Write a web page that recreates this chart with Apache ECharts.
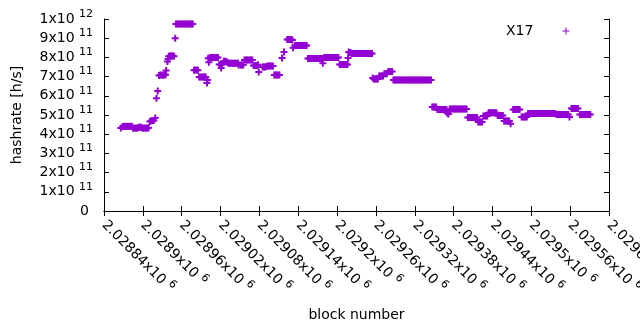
<!DOCTYPE html>
<html>
<head>
<meta charset="utf-8">
<title>X17 hashrate</title>
<script src="https://cdn.jsdelivr.net/npm/echarts@6/dist/echarts.min.js"></script>
<style>
  html, body { margin: 0; padding: 0; background: #fff; }
  #chart { width: 640px; height: 330px; }
</style>
</head>
<body>
<div id="chart"></div>
<script>
  // x axis: block numbers, ticks every 60 blocks
  const firstBlock = 2028840
  const lastBlock = 2029620
  const blockStep = 60
  // mantissas of the x tick labels (all x10^6)
  const xTickLabels = ['2.02884', '2.0289', '2.02896', '2.02902', '2.02908', '2.02914', '2.0292',
    '2.02926', '2.02932', '2.02938', '2.02944', '2.0295', '2.02956', '2.02962']
  // y tick labels: [mantissa, exponent]
  const yTickLabels = [['0', ''], ['1', '11'], ['2', '11'], ['3', '11'], ['4', '11'], ['5', '11'],
    ['6', '11'], ['7', '11'], ['8', '11'], ['9', '11'], ['1', '12']]
  // X17 samples: [block - firstBlock, hashrate in 1e11 h/s]
  const x17 = [
    [26,4.32],[29,4.40],[31,4.41],[33,4.40],[35,4.41],[37,4.40],[39,4.41],[41,4.40],[43,4.41],
    [45,4.31],[47,4.32],[49,4.31],[51,4.32],[53,4.33],[55,4.37],[57,4.36],[59,4.32],[61,4.31],[63,4.32],[65,4.31],[67,4.32],[69,4.33],
    [71,4.66],[73,4.70],[75,4.72],[77,4.71],[79,4.85],
    [81,5.87],[83,6.25],
    [85,7.06],[87,7.08],[89,7.08],[91,7.07],[93,7.08],[95,7.10],[96,7.32],
    [98,7.78],[99,7.92],
    [100,8.06],[102,8.07],[104,8.07],[106,8.08],[108,8.06],
    [110,9.00],
    [111,9.74],[113,9.74],[115,9.74],[117,9.74],[119,9.74],[121,9.74],[123,9.74],[125,9.74],[127,9.74],[129,9.74],[131,9.74],[133,9.74],[135,9.74],[137,9.74],
    [139,7.33],[141,7.34],[143,7.34],[145,7.33],
    [147,6.98],[149,6.98],[151,6.98],[153,6.98],[155,6.98],[157,6.98],
    [159,6.67],[160,6.82],[161,7.95],[162,7.75],
    [164,8.00],[166,8.00],[168,8.00],[170,8.00],[172,8.00],[174,8.00],[176,8.00],
    [178,7.63],[180,7.63],[181,7.45],[182,7.62],
    [185,7.80],[187,7.80],[189,7.79],[191,7.72],[193,7.70],[195,7.70],[197,7.70],[199,7.70],[201,7.70],[203,7.70],[205,7.70],[207,7.70],
    [208,7.60],
    [211,7.60],[213,7.60],[215,7.60],
    [217,7.86],[219,7.86],[221,7.86],[223,7.86],[225,7.86],[227,7.86],[229,7.86],
    [231,7.58],[233,7.58],[235,7.58],[237,7.58],[238,7.62],
    [239,7.24],
    [245,7.50],[247,7.50],[249,7.50],[251,7.52],[253,7.55],[255,7.55],[257,7.55],[259,7.55],[261,7.55],
    [263,7.08],[265,7.08],[267,7.08],[269,7.08],[271,7.08],
    [275,7.97],[278,8.28],
    [283,8.93],[285,8.93],[287,8.93],[289,8.93],[291,8.90],
    [292,8.50],
    [295,8.62],[297,8.62],[299,8.62],[301,8.62],[303,8.62],[305,8.62],[307,8.62],[309,8.62],[311,8.62],[313,8.62],
    [315,7.94],[317,7.94],[319,7.94],[321,7.94],[323,7.94],[325,7.94],[327,7.94],[329,7.94],[331,7.94],[333,7.94],[335,7.94],[337,7.94],
    [338,7.70],
    [340,8.00],[342,8.00],[344,8.00],[346,8.00],[348,8.00],[350,8.00],[352,8.00],[354,8.00],[356,8.00],[358,8.00],[360,8.00],[362,8.00],
    [364,7.63],[366,7.63],[368,7.63],[370,7.63],[372,7.63],[374,7.63],[376,7.63],
    [377,7.97],[378,8.28],
    [380,8.25],[382,8.22],[384,8.20],[386,8.20],[388,8.20],[390,8.20],[392,8.20],[394,8.20],[396,8.20],[398,8.20],[400,8.20],
    [402,8.20],[404,8.20],[406,8.20],[408,8.20],[410,8.20],[412,8.20],[414,8.20],
    [415,6.93],[417,6.88],[419,6.88],[421,6.88],[423,6.88],
    [425,7.03],[427,7.03],[429,7.03],[431,7.03],
    [433,7.15],[435,7.15],[437,7.15],
    [439,7.26],[441,7.26],[443,7.26],[445,7.26],
    [447,6.82],[449,6.82],[451,6.82],[453,6.82],[455,6.82],[457,6.82],[459,6.82],[461,6.82],[463,6.82],[465,6.82],
    [467,6.82],[469,6.82],[471,6.82],[473,6.82],[475,6.82],[477,6.82],[479,6.82],[481,6.82],[483,6.82],[485,6.82],
    [487,6.82],[489,6.82],[491,6.82],[493,6.82],[495,6.82],[497,6.82],[499,6.82],[501,6.82],[503,6.82],[505,6.82],
    [507,5.42],[509,5.42],[511,5.42],[513,5.42],
    [515,5.29],[517,5.29],[519,5.29],[521,5.29],[523,5.29],[525,5.29],[527,5.29],[529,5.29],[530,5.10],[532,5.05],
    [534,5.31],[536,5.31],[538,5.31],[540,5.31],[542,5.31],[544,5.31],[546,5.31],[548,5.31],[550,5.31],[552,5.31],[554,5.31],[556,5.31],[558,5.31],[560,5.31],
    [562,4.87],[564,4.87],[566,4.87],[568,4.87],[570,4.87],[572,4.87],[574,4.87],[576,4.87],
    [578,4.63],[580,4.63],[582,4.63],[584,4.63],
    [586,4.95],[588,4.95],[590,4.95],[592,4.95],
    [594,5.12],[596,5.12],[598,5.12],[600,5.12],[602,5.12],[604,5.12],[606,5.12],
    [608,4.97],[610,4.97],[612,4.97],[614,4.97],[616,4.97],
    [618,4.69],[620,4.69],[622,4.69],[624,4.69],[626,4.69],[628,4.55],
    [632,5.29],[634,5.29],[636,5.29],[638,5.29],[640,5.29],[642,5.29],
    [645,4.90],[647,4.90],[649,4.90],[651,4.90],[653,4.90],
    [655,5.08],[657,5.08],[659,5.08],[661,5.08],[663,5.08],[665,5.08],[667,5.08],[669,5.08],[671,5.08],[673,5.08],[675,5.08],
    [677,5.08],[679,5.08],[681,5.08],[683,5.08],[685,5.08],[687,5.08],[689,5.08],[691,5.08],[693,5.08],[695,5.08],[697,5.08],
    [699,5.03],[701,5.03],[703,5.03],[705,5.03],[707,5.03],[709,5.03],[711,5.03],[713,5.03],[715,5.03],[717,5.03],[719,4.90],
    [722,5.34],[724,5.34],[726,5.34],[728,5.34],[730,5.34],[732,5.34],
    [735,5.03],[737,5.03],[739,5.03],[741,5.03],[743,5.03],[745,5.03],[747,5.03],[749,5.03],[751,5.03]
  ]

  const purple = '#9400d3'
  const font = 'DejaVu Sans'
  // gnuplot style "+" point (bold enough that runs of points merge)
  const plus = 'path://M0,2.5H7V4.5H0Z M2.5,0H4.5V7H2.5Z'
  const plusThin = 'path://M0,3H7V4H0Z M3,0H4V7H3Z'

  const rich = {
    b: { fontFamily: font, fontSize: 14, color: '#000' },
    s: { fontFamily: font, fontSize: 11, color: '#000', padding: [0, 0, 10, 0] }
  }

  const chart = echarts.init(document.getElementById('chart'), null, { renderer: 'canvas' })

  const tickStyle = { show: true, inside: true, length: 5, lineStyle: { color: '#000', width: 1 } }
  const lineStyle = { show: true, lineStyle: { color: '#000', width: 1 } }

  const option = {
    animation: false,
    grid: { left: 104, top: 19, width: 505, height: 192, outerBoundsMode: 'none', containLabel: false },
    legend: {
      data: ['X17'],
      left: 506,
      top: 24,
      padding: 0,
      align: 'right',
      icon: plusThin,
      itemWidth: 7,
      itemHeight: 7,
      selectedMode: false,
      textStyle: { fontFamily: font, fontSize: 14, color: '#000', padding: [0, 24, 0, 0] }
    },
    xAxis: [
      {
        type: 'value',
        min: firstBlock,
        max: lastBlock,
        interval: blockStep,
        name: 'block number',
        nameLocation: 'middle',
        nameGap: 97,
        nameTextStyle: { fontFamily: font, fontSize: 14, color: '#000' },
        axisLine: lineStyle,
        axisTick: tickStyle,
        splitLine: { show: false },
        axisLabel: {
          rotate: -45,
          margin: 12,
          showMinLabel: true,
          showMaxLabel: true,
          formatter: v => {
            const i = Math.round((v - firstBlock) / blockStep)
            return '{b|' + xTickLabels[i] + 'x10 }{s|6}'
          },
          rich: rich
        }
      },
      {
        type: 'value',
        position: 'top',
        min: firstBlock,
        max: lastBlock,
        interval: blockStep,
        axisLine: lineStyle,
        axisTick: tickStyle,
        axisLabel: { show: false },
        splitLine: { show: false }
      }
    ],
    yAxis: [
      {
        type: 'value',
        min: 0,
        max: 1e12,
        interval: 1e11,
        name: 'hashrate [h/s]',
        nameLocation: 'middle',
        nameGap: 80,
        nameTextStyle: { fontFamily: font, fontSize: 14, color: '#000' },
        axisLine: lineStyle,
        axisTick: tickStyle,
        splitLine: { show: false },
        axisLabel: {
          margin: 11,
          formatter: v => {
            const t = yTickLabels[Math.round(v / 1e11)]
            if (!t[1]) return '{z|' + t[0] + '}'
            return '{b|' + t[0] + 'x10 }{s|' + t[1] + '}'
          },
          rich: Object.assign({ z: { fontFamily: font, fontSize: 14, color: '#000', padding: [0, 4, 0, 0] } }, rich)
        }
      },
      {
        type: 'value',
        position: 'right',
        min: 0,
        max: 1e12,
        interval: 1e11,
        axisLine: lineStyle,
        axisTick: tickStyle,
        axisLabel: { show: false },
        splitLine: { show: false }
      }
    ],
    series: [
      {
        name: 'X17',
        type: 'scatter',
        symbol: plus,
        symbolSize: 7,
        itemStyle: { color: purple, opacity: 1 },
        emphasis: { disabled: true },
        data: x17.map(p => [firstBlock + p[0], p[1] * 1e11])
      }
    ]
  }

  chart.setOption(option)
</script>
</body>
</html>
